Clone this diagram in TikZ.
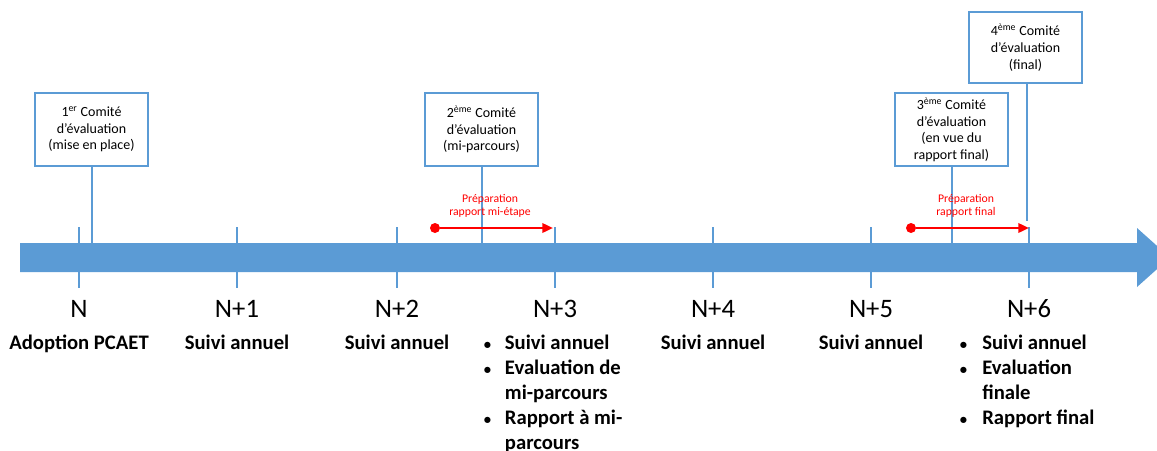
\documentclass[tikz,border=0pt]{standalone}
\usepackage{fontspec}
\setmainfont{Carlito}
\usetikzlibrary{arrows.meta, positioning}
\definecolor{bandblue}{HTML}{5B9BD5}
\newcommand{\listbullet}{{\fontsize{11}{11}\selectfont\textbullet}}

\begin{document}
\begin{tikzpicture}[x=0.75pt, y=-0.75pt,
            comite/.style={draw=bandblue, line width=1pt, fill=white, minimum width=84.75pt, minimum height=54.75pt, inner sep=1pt, align=center, font=\fontsize{10.5}{12.4}\selectfont},
            year label/.style={font=\fontsize{20}{24}\selectfont, anchor=base},
            event label/.style={font=\fontsize{15.5}{18.75}\selectfont\bfseries, anchor=base},
            event list/.style={font=\fontsize{15.5}{18.75}\selectfont\bfseries, anchor=base west, inner sep=0pt},
            prep label/.style={text=red, align=center, font=\fontsize{8.8}{10.2}\selectfont},
            tick/.style={draw=bandblue, line width=1.2pt},
            link/.style={draw=bandblue, line width=1.5pt},
            prep/.style={draw=red, line width=1.8pt, -{Triangle[length=8pt, width=7pt]}},
            prep dot/.style={circle, fill=red, inner sep=0pt, minimum size=7.5pt}]

            \useasboundingbox (0,0) rectangle (1157,450);

            % Timeline band
            \fill[bandblue] (20,243) -- (1137,243) -- (1137,228) -- (1170,257.5) -- (1137,287) -- (1137,272) -- (20,272) -- cycle;
            \coordinate (band-top) at (0,243);

            % Year ticks
            \draw[tick] (79,227) -- (79,288);
            \draw[tick] (237,227) -- (237,288);
            \draw[tick] (397,227) -- (397,288);
            \draw[tick] (555,227) -- (555,288);
            \draw[tick] (713,227) -- (713,288);
            \draw[tick] (871,227) -- (871,288);
            \draw[tick] (1029,227) -- (1029,288);

            % Years and what happens in them
            \node[year label] (n0) at (79,317) {N};
            \node[event label, below=24pt of n0.base, anchor=base] (ev0) {Adoption PCAET};

            \node[year label] (n1) at (237,317) {N+1};
            \node[event label, below=24pt of n1.base, anchor=base] (ev1) {Suivi annuel};

            \node[year label] (n2) at (397,317) {N+2};
            \node[event label, below=24pt of n2.base, anchor=base] (ev2) {Suivi annuel};

            \node[year label] (n3) at (555,317) {N+3};
            \node[event list] (ev3) at (483.5,349) {\begin{tabular}[t]{@{}p{15.9pt}@{}l@{}}
                \listbullet & Suivi annuel\\
                \listbullet & Evaluation de\\
                & mi-parcours\\
                \listbullet & Rapport à mi-\\
                & parcours
            \end{tabular}};

            \node[year label] (n4) at (713,317) {N+4};
            \node[event label, below=24pt of n4.base, anchor=base] (ev4) {Suivi annuel};

            \node[year label] (n5) at (871,317) {N+5};
            \node[event label, below=24pt of n5.base, anchor=base] (ev5) {Suivi annuel};

            \node[year label] (n6) at (1029,317) {N+6};
            \node[event list] (ev6) at (959.5,349) {\begin{tabular}[t]{@{}p{16.9pt}@{}l@{}}
                \listbullet & Suivi annuel\\
                \listbullet & Evaluation\\
                & finale\\
                \listbullet & Rapport final
            \end{tabular}};

            % Evaluation committees
            \node[comite] (comite1) at (91.5,129.5) {1\textsuperscript{er} Comité\\d’évaluation\\(mise en place)};
            \node[comite] (comite2) at (481.5,129.5) {2\textsuperscript{ème} Comité\\d’évaluation\\(mi-parcours)};
            \node[comite] (comite3) at (951.5,129.5) {3\textsuperscript{ème} Comité\\d’évaluation\\(en vue du\\rapport final)};
            \node[comite, minimum height=53.25pt] (comite4) at (1025.5,47.5) {4\textsuperscript{ème} Comité\\d’évaluation\\(final)};
            \coordinate (comite4-end) at (1027,221);

            \draw[link] (comite1.south) -- (comite1.south |- band-top);
            \draw[link] (comite2.south) -- (comite2.south |- band-top);
            \draw[link] (comite3.south) -- (comite3.south |- band-top);
            \draw[link] (comite4.south -| comite4-end) -- (comite4-end);

            % Report preparation
            \node[prep dot] (prep-mid) at (435,228) {};
            \coordinate (prep-mid-end) at (553,228);
            \draw[prep] (prep-mid) -- (prep-mid-end);
            \node[prep label] (prep-mid-label) at (490,206) {Préparation\\rapport mi-étape};

            \node[prep dot] (prep-final) at (911,228) {};
            \coordinate (prep-final-end) at (1029,228);
            \draw[prep] (prep-final) -- (prep-final-end);
            \node[prep label] (prep-final-label) at (966,206) {Préparation\\rapport final};
        \end{tikzpicture}
\end{document}
